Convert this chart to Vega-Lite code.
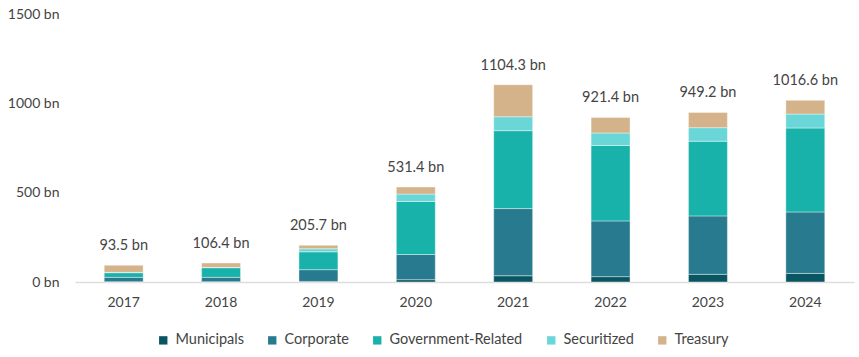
{
  "$schema": "https://vega.github.io/schema/vega-lite/v6.json",
  "autosize": {"type": "none"},
  "padding": {"left": 75, "top": 14, "right": 5, "bottom": 75},
  "width": 779,
  "height": 268,
  "background": "white",
  "config": {
    "view": {"stroke": null},
    "font": "Lato",
    "axis": {"labelFont": "Lato", "labelColor": "#444444", "labelFontSize": 14}
  },
  "datasets": {
    "parts": [
      {"year": "2017", "segment": "Municipals", "k": 1, "value": 2},
      {"year": "2017", "segment": "Corporate", "k": 2, "value": 24},
      {"year": "2017", "segment": "Government-Related", "k": 3, "value": 26},
      {"year": "2017", "segment": "Securitized", "k": 4, "value": 2},
      {"year": "2017", "segment": "Treasury", "k": 5, "value": 39.5},
      {"year": "2018", "segment": "Municipals", "k": 1, "value": 2},
      {"year": "2018", "segment": "Corporate", "k": 2, "value": 24},
      {"year": "2018", "segment": "Government-Related", "k": 3, "value": 54},
      {"year": "2018", "segment": "Securitized", "k": 4, "value": 2},
      {"year": "2018", "segment": "Treasury", "k": 5, "value": 24.4},
      {"year": "2019", "segment": "Municipals", "k": 1, "value": 3},
      {"year": "2019", "segment": "Corporate", "k": 2, "value": 66},
      {"year": "2019", "segment": "Government-Related", "k": 3, "value": 100},
      {"year": "2019", "segment": "Securitized", "k": 4, "value": 17},
      {"year": "2019", "segment": "Treasury", "k": 5, "value": 19.7},
      {"year": "2020", "segment": "Municipals", "k": 1, "value": 13},
      {"year": "2020", "segment": "Corporate", "k": 2, "value": 141},
      {"year": "2020", "segment": "Government-Related", "k": 3, "value": 297},
      {"year": "2020", "segment": "Securitized", "k": 4, "value": 41},
      {"year": "2020", "segment": "Treasury", "k": 5, "value": 39.4},
      {"year": "2021", "segment": "Municipals", "k": 1, "value": 35},
      {"year": "2021", "segment": "Corporate", "k": 2, "value": 376},
      {"year": "2021", "segment": "Government-Related", "k": 3, "value": 436},
      {"year": "2021", "segment": "Securitized", "k": 4, "value": 78},
      {"year": "2021", "segment": "Treasury", "k": 5, "value": 179.3},
      {"year": "2022", "segment": "Municipals", "k": 1, "value": 30},
      {"year": "2022", "segment": "Corporate", "k": 2, "value": 312},
      {"year": "2022", "segment": "Government-Related", "k": 3, "value": 422},
      {"year": "2022", "segment": "Securitized", "k": 4, "value": 70},
      {"year": "2022", "segment": "Treasury", "k": 5, "value": 87.4},
      {"year": "2023", "segment": "Municipals", "k": 1, "value": 43},
      {"year": "2023", "segment": "Corporate", "k": 2, "value": 327},
      {"year": "2023", "segment": "Government-Related", "k": 3, "value": 418},
      {"year": "2023", "segment": "Securitized", "k": 4, "value": 76},
      {"year": "2023", "segment": "Treasury", "k": 5, "value": 85.2},
      {"year": "2024", "segment": "Municipals", "k": 1, "value": 48},
      {"year": "2024", "segment": "Corporate", "k": 2, "value": 344},
      {"year": "2024", "segment": "Government-Related", "k": 3, "value": 470},
      {"year": "2024", "segment": "Securitized", "k": 4, "value": 78},
      {"year": "2024", "segment": "Treasury", "k": 5, "value": 76.6}
    ],
    "totals": [
      {"year": "2017", "total": 93.5, "label": "93.5 bn"},
      {"year": "2018", "total": 106.4, "label": "106.4 bn"},
      {"year": "2019", "total": 205.7, "label": "205.7 bn"},
      {"year": "2020", "total": 531.4, "label": "531.4 bn"},
      {"year": "2021", "total": 1104.3, "label": "1104.3 bn"},
      {"year": "2022", "total": 921.4, "label": "921.4 bn"},
      {"year": "2023", "total": 949.2, "label": "949.2 bn"},
      {"year": "2024", "total": 1016.6, "label": "1016.6 bn"}
    ]
  },
  "encoding": {
    "x": {
      "field": "year", "type": "ordinal", "title": null,
      "scale": {"paddingInner": 0.6, "paddingOuter": 0.3},
      "axis": {"labelAngle": 0, "ticks": false, "domainColor": "#dddddd", "domainWidth": 1.5, "labelPadding": 13}
    }
  },
  "layer": [
    {
      "data": {"name": "parts"},
      "mark": {"type": "bar", "stroke": "white", "strokeWidth": 0.4},
      "encoding": {
        "y": {
          "field": "value", "type": "quantitative", "stack": "zero", "title": null,
          "scale": {"domain": [0, 1500], "nice": false},
          "axis": {"values": [0, 500, 1000, 1500], "grid": false, "domain": false, "ticks": false, "labelPadding": 16, "labelExpr": "datum.value + ' bn'"}
        },
        "color": {
          "field": "segment", "type": "nominal",
          "scale": {
            "domain": ["Municipals", "Corporate", "Government-Related", "Securitized", "Treasury"],
            "range": ["#0a5562", "#287b8e", "#19b2aa", "#6bd6d8", "#d5b38a"]
          },
          "legend": {
            "title": null, "orient": "none", "direction": "horizontal",
            "legendX": 81, "legendY": 319, "padding": 0,
            "symbolType": "square", "symbolSize": 70, "symbolStrokeWidth": 0,
            "labelFont": "Lato", "labelFontSize": 14.5, "labelColor": "#444444",
            "labelOffset": 5, "columnPadding": 21
          }
        },
        "order": {"field": "k", "type": "quantitative"}
      }
    },
    {
      "data": {"name": "totals"},
      "mark": {"type": "text", "baseline": "bottom", "dy": -12, "fontSize": 14.5, "color": "#444444", "font": "Lato"},
      "encoding": {
        "y": {"field": "total", "type": "quantitative"},
        "text": {"field": "label"}
      }
    }
  ]
}
